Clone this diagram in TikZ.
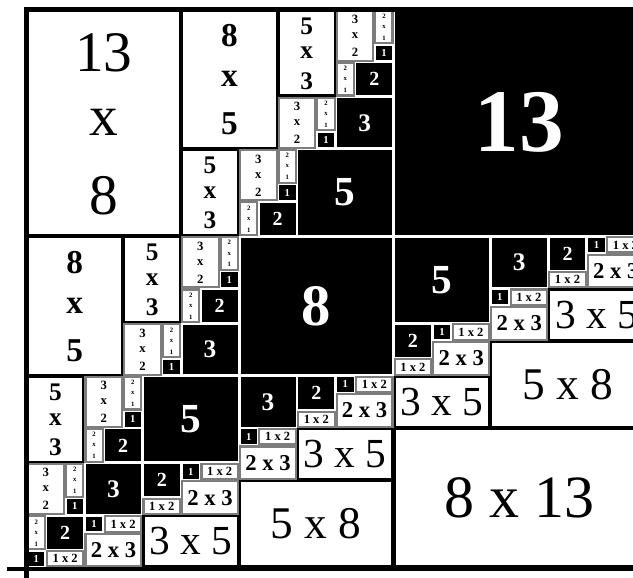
\documentclass[tikz,border=0pt]{standalone}
\usepackage{fontspec}
\setmainfont{Liberation Serif}
\definecolor{edgegray}{RGB}{125,125,125}

\newif\ifmirror
\newif\ifblackpass

\newcommand\fib[1]{\ifcase\numexpr#1\relax 1\or 1\or 2\or 3\or 5\or 8\or 13\or 21\fi}
\newcommand\setsize[1]{\fontsize{#1}{#1}\selectfont}
\newcommand\squarefont[1]{\bfseries\ifcase#1\or\setsize{8}\or\setsize{15}\or\setsize{19}\or\setsize{31}\or\setsize{44}\or\setsize{67}\fi}
\newcommand\stackfont[1]{\ifcase#1\or\or\bfseries\setsize{5}\or\bfseries\setsize{9.5}\or\bfseries\setsize{19}\or\bfseries\setsize{25}\or\setsize{43}\fi}
\newcommand\rowfont[1]{\ifcase#1\or\or\bfseries\setsize{9.4}\or\bfseries\setsize{17}\or\setsize{31}\or\setsize{34}\or\setsize{45}\fi}

% black square of side fib(#1) at (#2,#3)
\newcommand\darksq[3]{%
  \ifblackpass\begingroup
    \edef\tileside{\fib{#1}}%
    \ifmirror\edef\tilex{#3}\edef\tiley{#2}\else\edef\tilex{#2}\edef\tiley{#3}\fi
    \fill[blacktile] ([shift={(1.1pt,1.1pt)}]\tilex,\tiley) rectangle ([shift={(-1.1pt,-1.1pt)}]\tilex+\tileside,\tiley+\tileside);
    \node[squarenum, font=\squarefont{#1}] at (\tilex+\tileside/2,\tiley+\tileside/2) {\tileside};
  \endgroup\fi}

% white box fib(#1) x fib(#1-1) at (#2,#3)
\newcommand\standing[3]{%
  \ifblackpass\else\begingroup
    \edef\tilew{\fib{#1-1}}\edef\tileh{\fib{#1}}%
    \ifnum#1>3 \tikzset{thistile/.style=bigtile}\else\tikzset{thistile/.style=smalltile}\fi
    \ifmirror
      \draw[thistile] ([shift={(0.8pt,0.8pt)}]#3,#2) rectangle ([shift={(-0.8pt,-0.8pt)}]#3+\tileh,#2+\tilew);
      \node[font=\rowfont{#1}] at (#3+\tileh/2,#2+\tilew/2) {\tilew{} x \tileh};
    \else
      \draw[thistile] ([shift={(0.8pt,0.8pt)}]#2,#3) rectangle ([shift={(-0.8pt,-0.8pt)}]#2+\tilew,#3+\tileh);
      \node[font=\stackfont{#1}] at (#2+\tilew/2,#3+0.81*\tileh) {\tileh};
      \node[font=\stackfont{#1}] at (#2+\tilew/2,#3+0.50*\tileh) {x};
      \node[font=\stackfont{#1}] at (#2+\tilew/2,#3+0.18*\tileh) {\tilew};
    \fi
  \endgroup\fi}

% staircase part beside the square of index #1
\newcommand\Lpart[3]{%
  \ifnum#1=2 \standing{2}{#2}{#3}\fi
  \ifnum#1>2
    \standing{#1}{#2}{#3}%
    \begingroup
      \edef\next{\noexpand\Lpart{\the\numexpr#1-1\relax}{\the\numexpr#2+\fib{#1-1}\relax}{\the\numexpr#3+\fib{#1-2}\relax}%
        \noexpand\Lpart{\the\numexpr#1-2\relax}{\the\numexpr#2+\fib{#1-1}\relax}{#3}%
        \noexpand\darksq{\the\numexpr#1-2\relax}{\the\numexpr#2+\fib{#1-1}+\fib{#1-1}-2\relax}{#3}}%
      \next
    \endgroup
  \fi}

\newcommand\alltiles{%
  \foreach \k in {1,...,6}{
    \edef\diag{\the\numexpr\fib{\k+1}-2\relax}
    \edef\next{\noexpand\darksq{\k}{\diag}{\diag}%
      \noexpand\mirrorfalse\noexpand\Lpart{\k}{0}{\diag}%
      \noexpand\mirrortrue\noexpand\Lpart{\k}{0}{\diag}}
    \next
  }}

\begin{document}
\begin{tikzpicture}[
  x=14.49pt, y=13.08pt,
  bigtile/.style={fill=white, draw=black, line width=1.6pt},
  smalltile/.style={fill=white, draw=edgegray, line width=1.6pt},
  blacktile/.style={fill=black},
  squarenum/.style={text=white},
  frameline/.style={line width=3.4pt, line join=miter}
]
\useasboundingbox (-1.372,-0.545) rectangle (31.39,32.54);
\fill[white] (-1.372,-0.545) rectangle (31.39,32.54);
\clip (-1.372,-0.545) rectangle (31.39,32.54);

\blackpasstrue
\alltiles
\blackpassfalse
\alltiles

\draw[frameline] (0,-1) -- (0,32) -- (33,32);
\draw[frameline] (-1.01,-0.086) -- (33,-0.086);

\end{tikzpicture}
\end{document}
